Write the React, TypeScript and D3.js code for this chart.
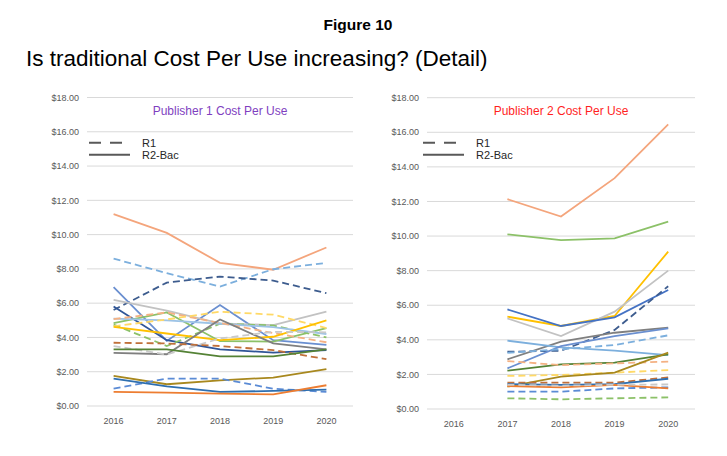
import { useEffect, useRef } from 'react'
import * as d3 from 'd3'

const years = ['2016', '2017', '2018', '2019', '2020']
const yTicks = [0, 2, 4, 6, 8, 10, 12, 14, 16, 18]
const legendLabels = ['R1', 'R2-Bac']

// Publisher 1 — one row per title, values by year
const p1Values: (number | null)[][] = [
  [11.2, 10.1, 8.35, 7.95, 9.25],
  [8.6, 7.75, 6.97, 7.98, 8.35],
  [5.6, 7.2, 7.55, 7.32, 6.58],
  [6.93, 3.8, 5.89, 3.84, 3.57],
  [5.8, 3.84, 3.3, 3.12, 3.26],
  [6.19, 5.56, 4.82, 4.72, 5.5],
  [4.84, 5.46, 3.78, 3.76, 4.54],
  [4.75, 3.5, 4.8, 4.7, 4.0],
  [5.1, 5.0, 4.8, 4.6, 4.2],
  [5.07, 5.46, 4.84, 4.26, 3.72],
  [4.65, 5.05, 5.5, 5.33, 4.55],
  [4.62, 4.23, 3.84, 4.04, 5.0],
  [3.1, 3.02, 5.05, 3.65, 3.3],
  [3.5, 3.0, 3.94, 4.33, 4.3],
  [3.69, 3.65, 3.5, 3.26, 2.73],
  [3.3, 3.3, 2.9, 2.9, 3.3],
  [1.76, 1.27, 1.5, 1.66, 2.15],
  [1.01, 1.6, 1.6, 1.01, 0.82],
  [1.6, 1.15, 0.82, 0.88, 0.96],
  [0.82, 0.78, 0.72, 0.68, 1.21],
]
const p1Colors = [
  '#F4A57C', '#7CAFDD', '#3D5C8E', '#6A8FD0', '#2F5597', '#C2C2C2', '#8CC168',
  '#8CC168', '#9DC3E6', '#F4B183', '#FFD966', '#FFC000', '#7F7F7F', '#C9C9C9',
  '#C0703A', '#548235', '#A8881E', '#5B8BD5', '#2E6FB0', '#ED7D31',
]
const p1Dashed = [
  false, true, true, false, false, false, false, true, false, true, true,
  false, false, true, true, false, false, true, false, false,
]

// Publisher 2 — no 2016 data
const p2Values: (number | null)[][] = [
  [null, 12.13, 11.13, 13.35, 16.46],
  [null, 10.1, 9.77, 9.87, 10.83],
  [null, 5.34, 4.8, 5.38, 9.1],
  [null, 5.24, 4.22, 5.63, 8.0],
  [null, 5.76, 4.8, 5.3, 6.88],
  [null, 3.31, 3.37, 4.57, 7.1],
  [null, 2.87, 3.89, 4.41, 4.7],
  [null, 3.95, 3.56, 3.37, 3.12],
  [null, 2.35, 3.64, 4.22, 4.66],
  [null, 3.25, 3.45, 3.7, 4.26],
  [null, 2.22, 2.58, 2.68, 3.16],
  [null, 2.77, 2.54, 2.64, 2.74],
  [null, 1.91, 1.97, 2.1, 2.25],
  [null, 1.29, 1.87, 2.1, 3.26],
  [null, 1.52, 1.52, 1.52, 1.83],
  [null, 1.0, 1.0, 1.19, 1.25],
  [null, 1.44, 1.39, 1.44, 1.75],
  [null, 1.33, 1.25, 1.39, 1.19],
  [null, 1.4, 1.35, 1.4, 1.42],
  [null, 0.62, 0.56, 0.62, 0.67],
]
const p2Colors = [
  '#F4A57C', '#8CC168', '#FFC000', '#C2C2C2', '#4472C4', '#3D5C8E', '#7F7F7F',
  '#7CAFDD', '#6A8FD0', '#7CAFDD', '#548235', '#F4B183', '#FFD966', '#A8881E',
  '#C0703A', '#5B8BD5', '#2E6FB0', '#ED7D31', '#C9C9C9', '#8CC168',
]
const p2Dashed = [
  false, false, false, false, false, true, false, false, false, true, false,
  true, true, false, true, true, false, false, true, true,
]

interface PanelSpec {
  left: number
  right: number
  top: number
  bottom: number
  title: string
  titleColor: string
  values: (number | null)[][]
  colors: string[]
  dashed: boolean[]
  legendX: number
}

const panels: PanelSpec[] = [
  {
    left: 87, right: 353, top: 97.5, bottom: 406,
    title: 'Publisher 1 Cost Per Use', titleColor: '#7F3FBF',
    values: p1Values, colors: p1Colors, dashed: p1Dashed, legendX: 89,
  },
  {
    left: 427, right: 695, top: 97.7, bottom: 409,
    title: 'Publisher 2 Cost Per Use', titleColor: '#FF1F1F',
    values: p2Values, colors: p2Colors, dashed: p2Dashed, legendX: 423,
  },
]

const font = '"Liberation Sans", Arial, sans-serif'

export default function App() {
  const svgRef = useRef<SVGSVGElement>(null)

  useEffect(() => {
    if (!svgRef.current) return
    const svg = d3.select(svgRef.current)
    svg.selectAll('*').remove()

    svg.append('rect').attr('width', 727).attr('height', 456).attr('fill', '#fff')

    // Headings
    svg.append('text')
      .attr('x', 358).attr('y', 30)
      .attr('text-anchor', 'middle')
      .attr('font-family', font).attr('font-size', 15.5).attr('font-weight', 'bold')
      .attr('fill', '#000')
      .text('Figure 10')

    svg.append('text')
      .attr('x', 26).attr('y', 66)
      .attr('font-family', font).attr('font-size', 22.5)
      .attr('fill', '#000')
      .text('Is traditional Cost Per Use increasing? (Detail)')

    panels.forEach((p) => {
      const g = svg.append('g')

      const x = d3.scalePoint<string>().domain(years).range([p.left, p.right]).padding(0.5)
      const y = d3.scaleLinear().domain([0, 18]).range([p.bottom, p.top])

      // Gridlines
      g.selectAll('line.grid')
        .data(yTicks)
        .join('line')
        .attr('x1', p.left).attr('x2', p.right)
        .attr('y1', (d) => y(d)).attr('y2', (d) => y(d))
        .attr('stroke', '#D9D9D9').attr('stroke-width', 1)

      // Y labels
      g.selectAll('text.ytick')
        .data(yTicks)
        .join('text')
        .attr('x', p.left - 8)
        .attr('y', (d) => y(d) + 3.2)
        .attr('text-anchor', 'end')
        .attr('font-family', font).attr('font-size', 9)
        .attr('fill', '#595959')
        .text((d) => `$${d.toFixed(2)}`)

      // X labels
      g.selectAll('text.xtick')
        .data(years)
        .join('text')
        .attr('x', (d) => x(d) as number)
        .attr('y', p.bottom + 18)
        .attr('text-anchor', 'middle')
        .attr('font-family', font).attr('font-size', 9)
        .attr('fill', '#595959')
        .text((d) => d)

      // Series
      const line = d3.line<number | null>()
        .defined((d) => d !== null)
        .x((_, i) => x(years[i]) as number)
        .y((d) => y(d as number))

      p.values.forEach((vals, i) => {
        g.append('path')
          .datum(vals)
          .attr('fill', 'none')
          .attr('stroke', p.colors[i])
          .attr('stroke-width', 1.8)
          .attr('stroke-dasharray', p.dashed[i] ? '7 4' : null)
          .attr('d', line)
      })

      // Title
      g.append('text')
        .attr('x', (p.left + p.right) / 2)
        .attr('y', 115)
        .attr('text-anchor', 'middle')
        .attr('font-family', font).attr('font-size', 12)
        .attr('fill', p.titleColor)
        .text(p.title)

      // Legend
      legendLabels.forEach((label, i) => {
        const ly = 142.7 + i * 12
        g.append('line')
          .attr('x1', p.legendX).attr('x2', p.legendX + 41)
          .attr('y1', ly).attr('y2', ly)
          .attr('stroke', '#595959').attr('stroke-width', 2)
          .attr('stroke-dasharray', i === 0 ? '12 9' : null)
        g.append('text')
          .attr('x', p.legendX + 53)
          .attr('y', ly + 4)
          .attr('font-family', font).attr('font-size', 11)
          .attr('fill', '#262626')
          .text(label)
      })
    })
  }, [])

  return (
    <svg
      ref={svgRef}
      width={727}
      height={456}
      style={{ position: 'absolute', left: 0, top: 0, display: 'block' }}
    />
  )
}
